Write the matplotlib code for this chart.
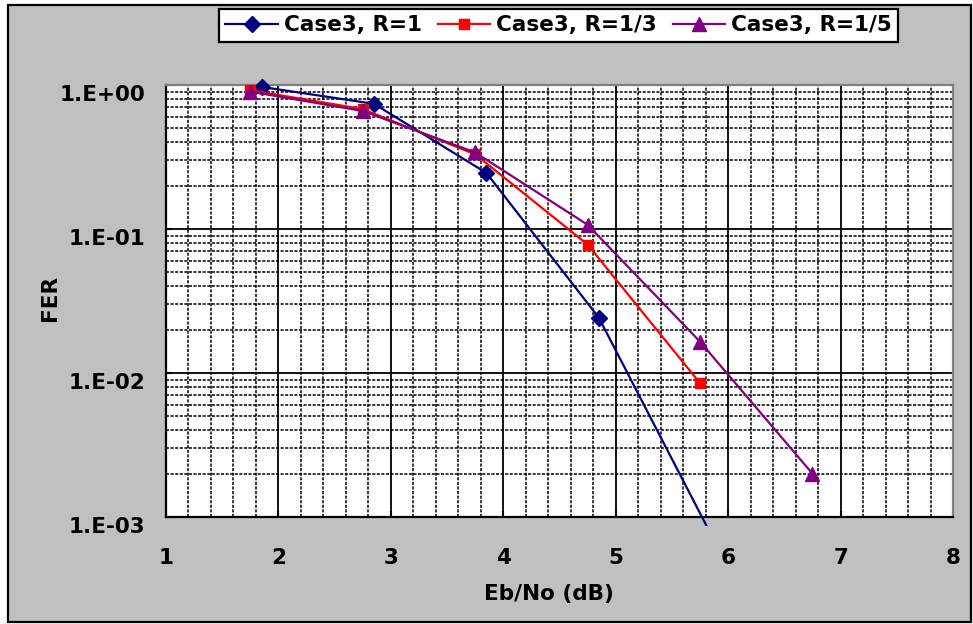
import matplotlib
matplotlib.use('Agg')
import matplotlib.pyplot as plt
from matplotlib.ticker import FixedLocator, LogLocator, NullFormatter, MultipleLocator, FixedFormatter
from matplotlib.patches import Rectangle
import matplotlib.transforms as mtransforms

# ---- data ----
ebno_r1 = [1.85, 2.85, 3.85, 4.85, 5.85]
fer_r1 = [0.97, 0.74, 0.245, 0.0242, 0.00075]
ebno_r13 = [1.75, 2.75, 3.75, 4.75, 5.75]
fer_r13 = [0.92, 0.68, 0.33, 0.078, 0.0085]
ebno_r15 = [1.75, 2.75, 3.75, 4.75, 5.75, 6.75]
fer_r15 = [0.90, 0.66, 0.34, 0.107, 0.0165, 0.002]
series_labels = ['Case3, R=1', 'Case3, R=1/3', 'Case3, R=1/5']
x_ticks = [1, 2, 3, 4, 5, 6, 7, 8]
y_ticks = [1e-3, 1e-2, 1e-1, 1e0]
y_ticklabels = ['1.E-03', '1.E-02', '1.E-01', '1.E+00']

plt.rcParams['font.family'] = ['DejaVu Sans']
plt.rcParams['font.weight'] = 'bold'
FS = 15.5

W, H = 973, 624
fig = plt.figure(figsize=(W / 100, H / 100), dpi=100)
fig.patch.set_facecolor('white')
fig.patches.append(Rectangle((8 / W, 2 / H), 963 / W, 617 / H, transform=fig.transFigure,
                             facecolor='#C0C0C0', edgecolor='black', linewidth=1.6, zorder=-10))

ax = fig.add_axes([166 / W, 107 / H, 787 / W, 432 / H])
ax.set_facecolor('white')
ax.set_yscale('log')
ax.set_xlim(1, 8)
ax.set_ylim(1e-3, 1e0)

clip_rect = Rectangle((0, -0.02), 1, 1.04, transform=ax.transAxes)

styles = [
    dict(color='#000080', marker='D', ms=7.8, mfc='#000080', mec='#000080'),
    dict(color='#FF0000', marker='s', ms=6.5, mfc='#FF0000', mec='#FF0000'),
    dict(color='#800080', marker='^', ms=9.5, mfc='#800080', mec='#800080'),
]
datasets = [(ebno_r1, fer_r1), (ebno_r13, fer_r13), (ebno_r15, fer_r15)]
handles = []
for (xs, ys), st, lab in zip(datasets, styles, series_labels):
    ln, = ax.plot(xs, ys, lw=1.6, label=lab, zorder=3, **st)
    ln.set_clip_path(clip_rect)
    handles.append(ln)

# grid
ax.xaxis.set_major_locator(FixedLocator(x_ticks))
ax.xaxis.set_minor_locator(MultipleLocator(0.2))
ax.yaxis.set_major_locator(FixedLocator(y_ticks))
ax.yaxis.set_major_formatter(FixedFormatter(y_ticklabels))
ax.yaxis.set_minor_locator(LogLocator(base=10, subs=range(2, 10)))
ax.yaxis.set_minor_formatter(NullFormatter())
ax.set_axisbelow(True)
ax.grid(which='major', color='black', lw=1.3, ls='-')
ax.grid(which='minor', color='black', lw=1.1, ls=(0, (2.0, 1.0)))

ax.tick_params(which='minor', length=0)
ax.tick_params(which='major', direction='in', length=4, width=1.5, color='black', labelsize=FS)
ax.tick_params(axis='x', which='major', pad=22)
ax.tick_params(axis='y', which='major', pad=15)
for lab in ax.get_xticklabels() + ax.get_yticklabels():
    lab.set_fontweight('bold')

offset = mtransforms.ScaledTranslation(0, -8 / 100, fig.dpi_scale_trans)
for t in ax.yaxis.get_major_ticks():
    t.label1.set_transform(t.label1.get_transform() + offset)

for s in ['left', 'bottom']:
    ax.spines[s].set_color('black')
    ax.spines[s].set_linewidth(1.6)
for s in ['top', 'right']:
    ax.spines[s].set_color('#808080')
    ax.spines[s].set_linewidth(1.6)

ax.set_xlabel('Eb/No (dB)', fontsize=FS, fontweight='bold', va='center')
ax.xaxis.set_label_coords((549 - 166) / 787, -(594 - 517) / 432)
ax.set_ylabel('FER', fontsize=FS, fontweight='bold', va='center')
ax.yaxis.set_label_coords((50 - 166) / 787, (517 - 298) / 432)

leg = fig.legend(handles=handles, labels=series_labels, loc='upper left',
                 bbox_to_anchor=(219 / W, 1 - 9 / H), bbox_transform=fig.transFigure,
                 ncol=3, fontsize=FS, numpoints=1, handlelength=2.45, handletextpad=0.25,
                 columnspacing=0.75, borderpad=0.3, borderaxespad=0, fancybox=False,
                 framealpha=1, edgecolor='black', facecolor='white')
leg.get_frame().set_linewidth(1.6)
for txt in leg.get_texts():
    txt.set_fontweight('bold')

fig.savefig('out.png', dpi=100)
